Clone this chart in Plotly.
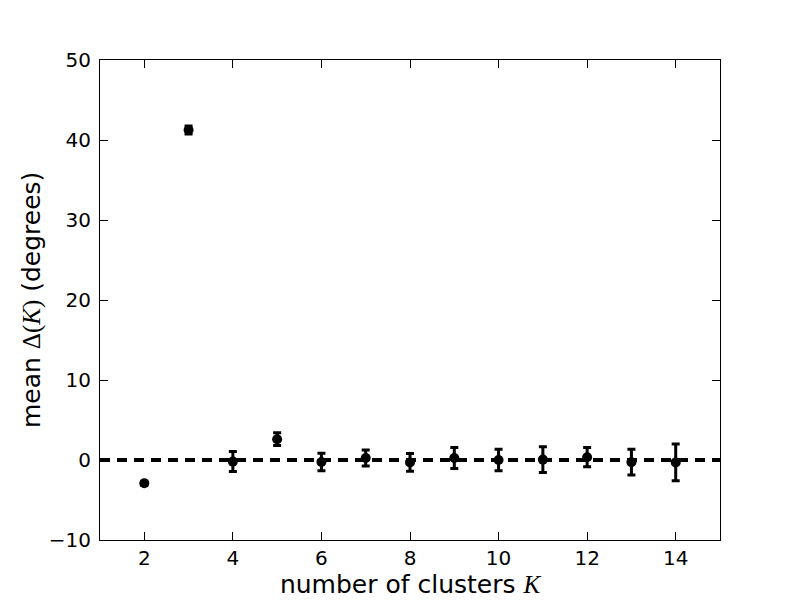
import plotly.graph_objects as go

K = [2, 3, 4, 5, 6, 7, 8, 9, 10, 11, 12, 13, 14]
mean_delta = [-2.9, 41.25, -0.2, 2.6, -0.25, 0.25, -0.3, 0.25, 0.0, 0.05, 0.35, -0.27, -0.3]
err = [0.25, 0.5, 1.25, 0.8, 1.1, 1.0, 1.1, 1.3, 1.35, 1.6, 1.2, 1.6, 2.3]

x_ticks = [2, 4, 6, 8, 10, 12, 14]
y_ticks = [-10, 0, 10, 20, 30, 40, 50]

fig = go.Figure()
fig.add_hline(y=0, line=dict(color="black", width=4, dash="10px,7px"))
fig.add_trace(go.Scatter(
    x=K, y=mean_delta, mode="markers",
    marker=dict(color="black", size=10, symbol="circle"),
    error_y=dict(type="data", array=err, visible=True, color="black", thickness=3, width=4),
    showlegend=False,
))

serif = "font-family:'Liberation Serif'"
fig.add_annotation(
    text=f"mean <span style=\"{serif}\">Δ(<i>K</i>)</span> (degrees)",
    xref="paper", yref="paper", x=0, y=0.5, xanchor="center", yanchor="middle",
    xshift=-69, textangle=-90, showarrow=False, font=dict(size=25),
)
fig.update_layout(
    width=800, height=600,
    margin=dict(l=92, r=88, t=52, b=68),
    paper_bgcolor="white", plot_bgcolor="white",
    font=dict(family="DejaVu Sans", size=20, color="black"),
    xaxis=dict(range=[1, 15], tickvals=x_ticks, ticks="inside", ticklen=8, tickwidth=1,
               tickcolor="black", mirror="ticks", showline=True, linecolor="black", linewidth=1,
               showgrid=False, zeroline=False, automargin=False,
               title=dict(text=f"number of clusters <span style=\"{serif}\"><i>K</i></span>",
                          font=dict(size=25), standoff=2)),
    yaxis=dict(range=[-10, 50], tickvals=y_ticks, ticks="inside", ticklen=8, tickwidth=1,
               tickcolor="black", mirror="ticks", showline=True, linecolor="black", linewidth=1,
               showgrid=False, zeroline=False, tickformat="d", automargin=False),
)
fig.update_yaxes(ticklabelstandoff=4)
fig.write_html("out.html")
